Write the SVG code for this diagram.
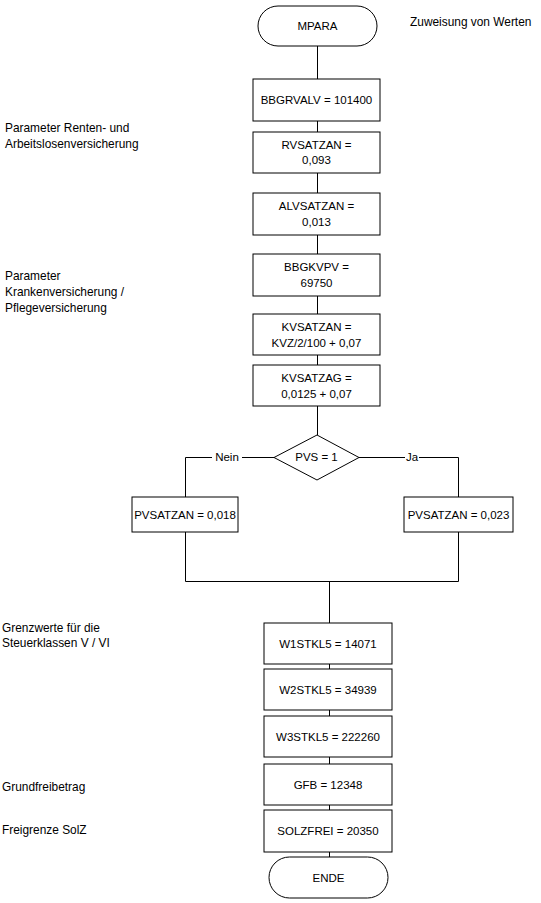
<svg xmlns="http://www.w3.org/2000/svg" width="541" height="903" viewBox="0 0 541 903">
<style>
.b{fill:#fff;stroke:#000;stroke-width:1}
.c{fill:none;stroke:#000;stroke-width:1}
text{font-family:"Liberation Sans",Arial,sans-serif;font-size:11.5px;fill:#000}
.m{text-anchor:middle;dominant-baseline:central}
.n{dominant-baseline:central;font-size:11.9px}
</style>
<rect width="541" height="903" fill="#fff"/>
<g id="connectors">
<path class="c" d="M317.5 46V79M317.5 121V132M317.5 173V193M317.5 235V254M317.5 296V314M317.5 355V365M317.5 406V435"/>
<path class="c" d="M274 457.5H185.5V497M359 457.5H458.5V497"/>
<path class="c" d="M185.5 532V581.5H458.5V532M329.5 581V623M329.5 664V669M329.5 710V716M329.5 757V764M329.5 805V810M329.5 852V857"/>
<rect x="212" y="451" width="30" height="13" fill="#fff"/>
<text class="m" x="227" y="457">Nein</text>
<rect x="405" y="451" width="14" height="13" fill="#fff"/>
<text class="m" x="412" y="457">Ja</text>
</g>
<g id="notes">
<text class="n" x="410" y="22">Zuweisung von Werten</text>
<text class="n" x="5" y="128">Parameter Renten- und</text>
<text class="n" x="5" y="144">Arbeitslosenversicherung</text>
<text class="n" x="5" y="276">Parameter</text>
<text class="n" x="5" y="292">Krankenversicherung /</text>
<text class="n" x="5" y="308">Pflegeversicherung</text>
<text class="n" x="2" y="628">Grenzwerte für die</text>
<text class="n" x="2" y="643">Steuerklassen V / VI</text>
<text class="n" x="2" y="787">Grundfreibetrag</text>
<text class="n" x="2" y="830">Freigrenze SolZ</text>
</g>
<g id="mpara"><rect class="b" x="258" y="6" width="119" height="40" rx="20"/><text class="m" x="317.5" y="26">MPARA</text></g>
<g id="bbgrvalv"><rect class="b" x="253" y="79" width="127" height="42"/><text class="m" x="316.5" y="100">BBGRVALV = 101400</text></g>
<g id="rvsatzan"><rect class="b" x="253" y="132" width="127" height="41"/><text class="m" x="316.5" y="145">RVSATZAN =</text><text class="m" x="316.5" y="160">0,093</text></g>
<g id="alvsatzan"><rect class="b" x="253" y="193" width="127" height="42"/><text class="m" x="316.5" y="206">ALVSATZAN =</text><text class="m" x="316.5" y="222">0,013</text></g>
<g id="bbgkvpv"><rect class="b" x="253" y="254" width="127" height="42"/><text class="m" x="316.5" y="267">BBGKVPV =</text><text class="m" x="316.5" y="283">69750</text></g>
<g id="kvsatzan"><rect class="b" x="253" y="314" width="127" height="41"/><text class="m" x="316.5" y="327">KVSATZAN =</text><text class="m" x="316.5" y="343">KVZ/2/100 + 0,07</text></g>
<g id="kvsatzag"><rect class="b" x="253" y="365" width="127" height="41"/><text class="m" x="316.5" y="378">KVSATZAG =</text><text class="m" x="316.5" y="394">0,0125 + 0,07</text></g>
<g id="pvs"><polygon class="b" points="317,435 359,457.5 317,480 274,457.5"/><text class="m" x="316.5" y="457">PVS = 1</text></g>
<g id="pvsatzan_nein"><rect class="b" x="132" y="497" width="106" height="35"/><text class="m" x="185" y="515">PVSATZAN = 0,018</text></g>
<g id="pvsatzan_ja"><rect class="b" x="404" y="497" width="109" height="35"/><text class="m" x="458.5" y="515">PVSATZAN = 0,023</text></g>
<g id="w1stkl5"><rect class="b" x="264" y="623" width="128" height="41"/><text class="m" x="328" y="644">W1STKL5 = 14071</text></g>
<g id="w2stkl5"><rect class="b" x="264" y="669" width="128" height="41"/><text class="m" x="328" y="690">W2STKL5 = 34939</text></g>
<g id="w3stkl5"><rect class="b" x="264" y="716" width="128" height="41"/><text class="m" x="328" y="737">W3STKL5 = 222260</text></g>
<g id="gfb"><rect class="b" x="264" y="764" width="128" height="41"/><text class="m" x="328" y="785">GFB = 12348</text></g>
<g id="solzfrei"><rect class="b" x="264" y="810" width="128" height="42"/><text class="m" x="328" y="831">SOLZFREI = 20350</text></g>
<g id="ende"><rect class="b" x="269" y="857" width="119" height="41" rx="20.5"/><text class="m" x="328.5" y="878">ENDE</text></g>
</svg>
